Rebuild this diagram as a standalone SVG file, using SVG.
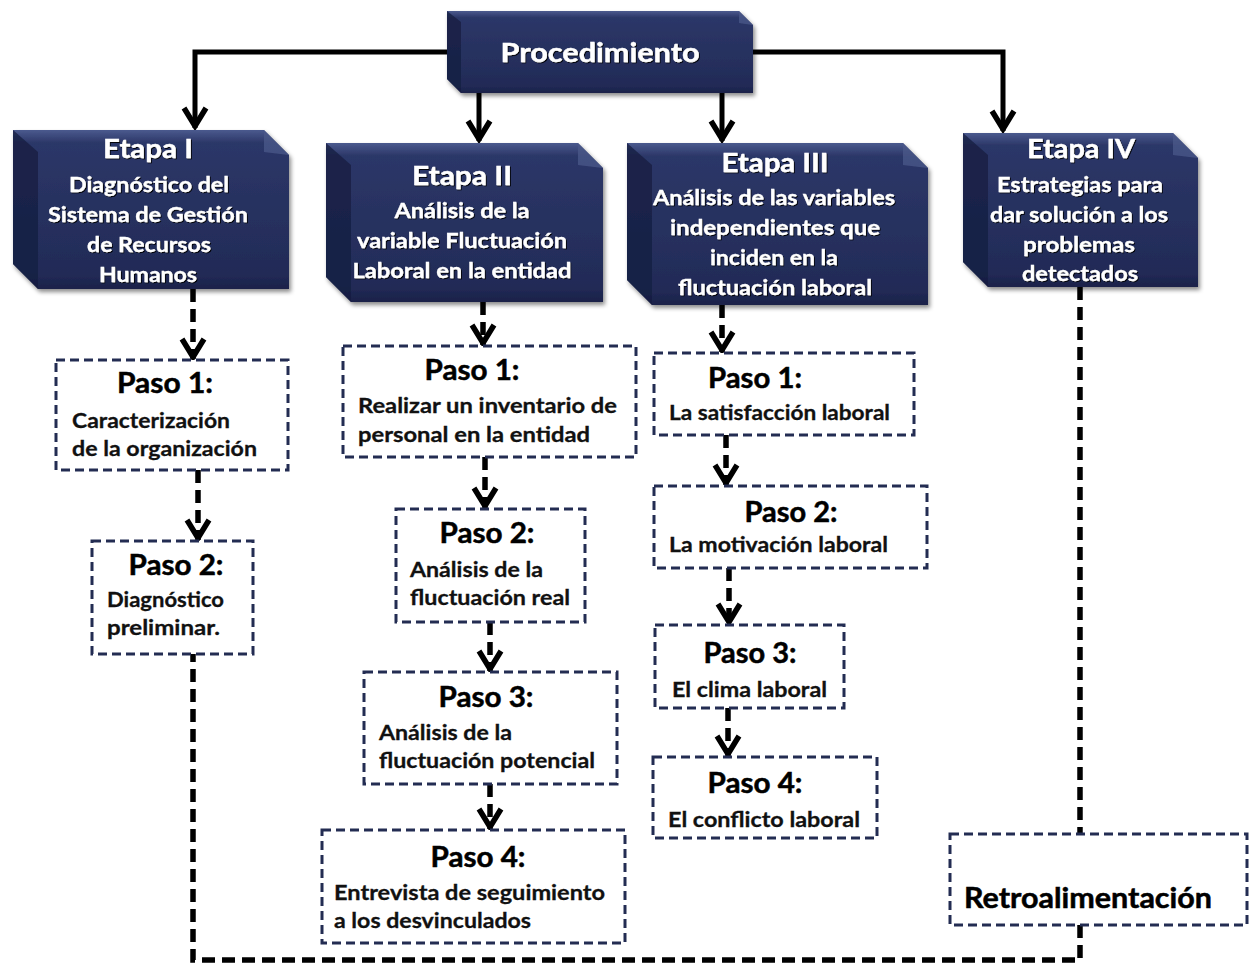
<svg xmlns="http://www.w3.org/2000/svg" width="1249" height="963" viewBox="0 0 1249 963">
<defs>
<style>
.et{font-family:Lato,"Open Sans",sans-serif;font-weight:700;font-size:27px;fill:#fff;stroke:#fff;stroke-width:0.4;text-anchor:middle}
.es{font-family:Lato,"Open Sans",sans-serif;font-weight:700;font-size:21px;fill:#fff;stroke:#fff;stroke-width:0.3;text-anchor:middle}
.pt{font-family:Lato,"Open Sans",sans-serif;font-weight:700;font-size:28px;fill:#000;stroke:#000;stroke-width:0.5;text-anchor:middle}
.ps{font-family:Lato,"Open Sans",sans-serif;font-weight:700;font-size:21px;fill:#111;stroke:#111;stroke-width:0.3}
.pbox{fill:#fff;stroke:#232c52;stroke-width:3;stroke-dasharray:9 5}
.body{fill:url(#navy)}
.lf{fill:#161d40;opacity:.75}
.tr{fill:#4a5888;opacity:.8}
.solid{fill:none;stroke:#000;stroke-width:5}
.dash{fill:none;stroke:#000;stroke-width:5.5;stroke-dasharray:13 7}
</style>
<linearGradient id="navy" x1="0" y1="0" x2="0" y2="1">
<stop offset="0" stop-color="#4b5a8e"/>
<stop offset="0.08" stop-color="#2c3768"/>
<stop offset="0.9" stop-color="#222b57"/>
<stop offset="1" stop-color="#1b2249"/>
</linearGradient>
<filter id="sh" x="-10%" y="-10%" width="125%" height="130%">
<feDropShadow dx="2" dy="3" stdDeviation="2" flood-color="#000" flood-opacity="0.45"/>
</filter>
<filter id="ts" x="-5%" y="-20%" width="110%" height="150%">
<feDropShadow dx="1" dy="1" stdDeviation="0.7" flood-color="#000" flood-opacity="0.9"/>
</filter>
<marker id="arr" markerUnits="userSpaceOnUse" viewBox="-26 -16 32 32" markerWidth="32" markerHeight="32" refX="0" refY="0" orient="auto">
<path d="M-20,-11 L-2,0 L-20,11" fill="none" stroke="#000" stroke-width="5.5" stroke-dasharray="none"/>
</marker>
</defs>

<g id="connectors">
<path class="solid" d="M447,52 H195 V128" marker-end="url(#arr)"/>
<path class="solid" d="M753,52 H1003 V131" marker-end="url(#arr)"/>
<path class="solid" d="M479,93 V141" marker-end="url(#arr)"/>
<path class="solid" d="M722,93 V141" marker-end="url(#arr)"/>
<path class="dash" d="M193,289 V359" marker-end="url(#arr)"/>
<path class="dash" d="M198,470 V540" marker-end="url(#arr)"/>
<path class="dash" d="M483,302 V345" marker-end="url(#arr)"/>
<path class="dash" d="M485,457 V508" marker-end="url(#arr)"/>
<path class="dash" d="M490,622 V671" marker-end="url(#arr)"/>
<path class="dash" d="M490,784 V829" marker-end="url(#arr)"/>
<path class="dash" d="M722,305 V352" marker-end="url(#arr)"/>
<path class="dash" d="M726,435 V485" marker-end="url(#arr)"/>
<path class="dash" d="M729,568 V624" marker-end="url(#arr)"/>
<path class="dash" d="M728,708 V756" marker-end="url(#arr)"/>
<path class="dash" d="M1080,287 V834"/>
<path class="dash" d="M1080,925 V960 H193 V654"/>
</g>

<g id="procedimiento">
<g filter="url(#sh)">
<polygon class="body" points="447,11 739,11 753,25 753,93 461,93 447,79"/>
<polygon class="lf" points="447,11 461,22 461,93 447,79"/>
<polygon class="tr" points="739,11 753,25 739,23"/>
</g>
<text class="et" x="600" y="62" textLength="199" lengthAdjust="spacingAndGlyphs" filter="url(#ts)">Procedimiento</text>
</g>

<g id="etapa1">
<g filter="url(#sh)">
<polygon class="body" points="13,130 264,130 289,155 289,289 38,289 13,264"/>
<polygon class="lf" points="13,130 38,152 38,289 13,264"/>
<polygon class="tr" points="264,130 289,155 264,152"/>
</g>
<g filter="url(#ts)">
<text class="et" x="148" y="158" textLength="90" lengthAdjust="spacingAndGlyphs">Etapa I</text>
<text class="es" x="149" y="192" textLength="160" lengthAdjust="spacingAndGlyphs">Diagnóstico del</text>
<text class="es" x="148" y="222" textLength="200" lengthAdjust="spacingAndGlyphs">Sistema de Gestión</text>
<text class="es" x="149" y="252" textLength="124" lengthAdjust="spacingAndGlyphs">de Recursos</text>
<text class="es" x="148" y="282" textLength="98" lengthAdjust="spacingAndGlyphs">Humanos</text>
</g>
</g>

<g id="etapa2">
<g filter="url(#sh)">
<polygon class="body" points="326,143 578,143 603,168 603,302 351,302 326,277"/>
<polygon class="lf" points="326,143 351,165 351,302 326,277"/>
<polygon class="tr" points="578,143 603,168 578,165"/>
</g>
<g filter="url(#ts)">
<text class="et" x="462" y="185" textLength="100" lengthAdjust="spacingAndGlyphs">Etapa II</text>
<text class="es" x="462" y="218" textLength="135" lengthAdjust="spacingAndGlyphs">Análisis de la</text>
<text class="es" x="462" y="248" textLength="210" lengthAdjust="spacingAndGlyphs">variable Fluctuación</text>
<text class="es" x="462" y="278" textLength="219" lengthAdjust="spacingAndGlyphs">Laboral en la entidad</text>
</g>
</g>

<g id="etapa3">
<g filter="url(#sh)">
<polygon class="body" points="627,143 903,143 928,168 928,305 652,305 627,280"/>
<polygon class="lf" points="627,143 652,165 652,305 627,280"/>
<polygon class="tr" points="903,143 928,168 903,165"/>
</g>
<g filter="url(#ts)">
<text class="et" x="775" y="172" textLength="107" lengthAdjust="spacingAndGlyphs">Etapa III</text>
<text class="es" x="774" y="205" textLength="242" lengthAdjust="spacingAndGlyphs">Análisis de las variables</text>
<text class="es" x="775" y="235" textLength="210" lengthAdjust="spacingAndGlyphs">independientes que</text>
<text class="es" x="774" y="265" textLength="128" lengthAdjust="spacingAndGlyphs">inciden en la</text>
<text class="es" x="775" y="295" textLength="194" lengthAdjust="spacingAndGlyphs">fluctuación laboral</text>
</g>
</g>

<g id="etapa4">
<g filter="url(#sh)">
<polygon class="body" points="963,133 1173,133 1198,158 1198,287 988,287 963,262"/>
<polygon class="lf" points="963,133 988,155 988,287 963,262"/>
<polygon class="tr" points="1173,133 1198,158 1173,155"/>
</g>
<g filter="url(#ts)">
<text class="et" x="1081" y="158" textLength="108" lengthAdjust="spacingAndGlyphs">Etapa IV</text>
<text class="es" x="1080" y="192" textLength="166" lengthAdjust="spacingAndGlyphs">Estrategias para</text>
<text class="es" x="1079" y="222" textLength="178" lengthAdjust="spacingAndGlyphs">dar solución a los</text>
<text class="es" x="1079" y="252" textLength="112" lengthAdjust="spacingAndGlyphs">problemas</text>
<text class="es" x="1080" y="281" textLength="116" lengthAdjust="spacingAndGlyphs">detectados</text>
</g>
</g>

<g id="e1p1">
<rect class="pbox" x="56" y="360" width="232" height="110"/>
<text class="pt" x="165" y="393" textLength="96" lengthAdjust="spacingAndGlyphs">Paso 1:</text>
<text class="ps" x="72" y="428" textLength="158" lengthAdjust="spacingAndGlyphs">Caracterización</text>
<text class="ps" x="72" y="456" textLength="185" lengthAdjust="spacingAndGlyphs">de la organización</text>
</g>
<g id="e1p2">
<rect class="pbox" x="92" y="541" width="161" height="113"/>
<text class="pt" x="176" y="575" textLength="95" lengthAdjust="spacingAndGlyphs">Paso 2:</text>
<text class="ps" x="107" y="607" textLength="117" lengthAdjust="spacingAndGlyphs">Diagnóstico</text>
<text class="ps" x="107" y="635" textLength="113" lengthAdjust="spacingAndGlyphs">preliminar.</text>
</g>

<g id="e2p1">
<rect class="pbox" x="343" y="346" width="293" height="111"/>
<text class="pt" x="472" y="380" textLength="95" lengthAdjust="spacingAndGlyphs">Paso 1:</text>
<text class="ps" x="358" y="413" textLength="259" lengthAdjust="spacingAndGlyphs">Realizar un inventario de</text>
<text class="ps" x="358" y="442" textLength="232" lengthAdjust="spacingAndGlyphs">personal en la entidad</text>
</g>
<g id="e2p2">
<rect class="pbox" x="396" y="509" width="189" height="113"/>
<text class="pt" x="487" y="543" textLength="95" lengthAdjust="spacingAndGlyphs">Paso 2:</text>
<text class="ps" x="410" y="577" textLength="133" lengthAdjust="spacingAndGlyphs">Análisis de la</text>
<text class="ps" x="410" y="605" textLength="160" lengthAdjust="spacingAndGlyphs">fluctuación real</text>
</g>
<g id="e2p3">
<rect class="pbox" x="364" y="672" width="253" height="112"/>
<text class="pt" x="486" y="707" textLength="95" lengthAdjust="spacingAndGlyphs">Paso 3:</text>
<text class="ps" x="379" y="740" textLength="133" lengthAdjust="spacingAndGlyphs">Análisis de la</text>
<text class="ps" x="379" y="768" textLength="216" lengthAdjust="spacingAndGlyphs">fluctuación potencial</text>
</g>
<g id="e2p4">
<rect class="pbox" x="322" y="830" width="303" height="113"/>
<text class="pt" x="478" y="867" textLength="95" lengthAdjust="spacingAndGlyphs">Paso 4:</text>
<text class="ps" x="334" y="900" textLength="271" lengthAdjust="spacingAndGlyphs">Entrevista de seguimiento</text>
<text class="ps" x="334" y="928" textLength="197" lengthAdjust="spacingAndGlyphs">a los desvinculados</text>
</g>

<g id="e3p1">
<rect class="pbox" x="654" y="353" width="260" height="82"/>
<text class="pt" x="755" y="388" textLength="94" lengthAdjust="spacingAndGlyphs">Paso 1:</text>
<text class="ps" x="669" y="420" textLength="221" lengthAdjust="spacingAndGlyphs">La satisfacción laboral</text>
</g>
<g id="e3p2">
<rect class="pbox" x="654" y="486" width="273" height="82"/>
<text class="pt" x="791" y="522" textLength="93" lengthAdjust="spacingAndGlyphs">Paso 2:</text>
<text class="ps" x="669" y="552" textLength="219" lengthAdjust="spacingAndGlyphs">La motivación laboral</text>
</g>
<g id="e3p3">
<rect class="pbox" x="655" y="625" width="189" height="83"/>
<text class="pt" x="750" y="663" textLength="93" lengthAdjust="spacingAndGlyphs">Paso 3:</text>
<text class="ps" x="672" y="697" textLength="155" lengthAdjust="spacingAndGlyphs">El clima laboral</text>
</g>
<g id="e3p4">
<rect class="pbox" x="653" y="757" width="224" height="81"/>
<text class="pt" x="755" y="793" textLength="95" lengthAdjust="spacingAndGlyphs">Paso 4:</text>
<text class="ps" x="668" y="827" textLength="192" lengthAdjust="spacingAndGlyphs">El conflicto laboral</text>
</g>

<g id="retro">
<rect class="pbox" x="950" y="834" width="297" height="91"/>
<text class="pt" x="964" y="908" style="text-anchor:start" textLength="248" lengthAdjust="spacingAndGlyphs">Retroalimentación</text>
</g>
</svg>
